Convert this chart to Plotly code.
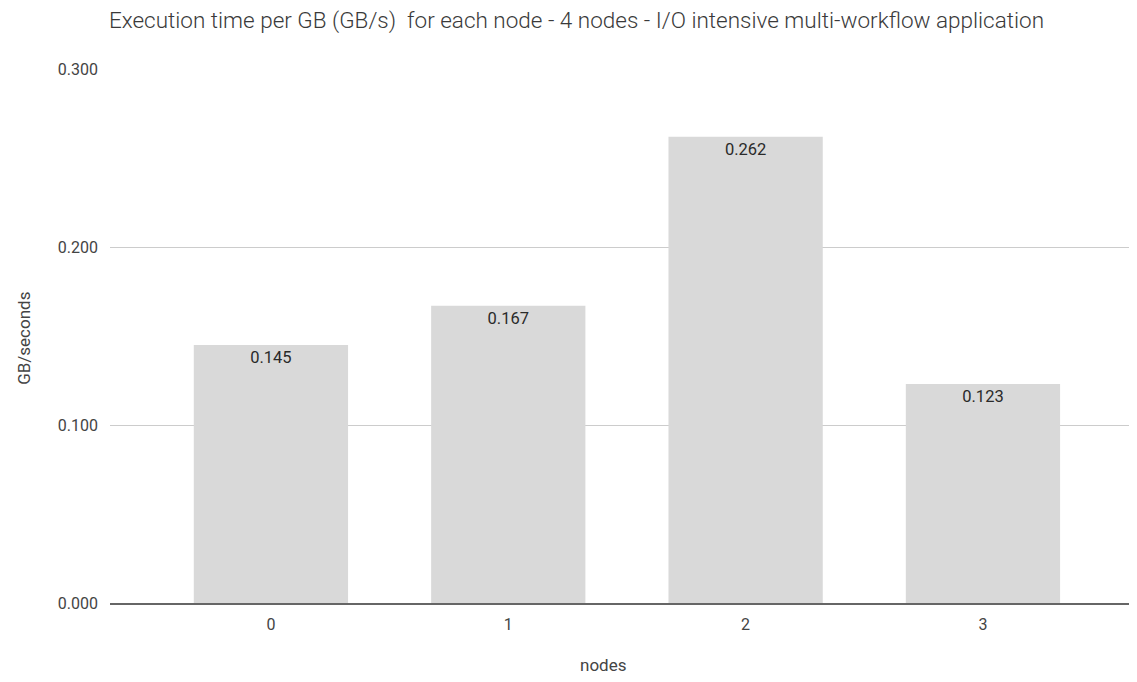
import plotly.graph_objects as go

nodes = ["0", "1", "2", "3"]
values = [0.145, 0.167, 0.262, 0.123]
labels = ["0.145", "0.167", "0.262", "0.123"]
yticks = [0.0, 0.1, 0.2, 0.3]
yticklabels = ["0.000", "0.100", "0.200", "0.300"]
x_title = "nodes"
y_title = "GB/seconds"

fig = go.Figure(go.Bar(
    x=[0, 1, 2, 3], y=values, text=labels,
    textposition="inside", insidetextanchor="end",
    textfont=dict(family="Roboto", size=16.5, color="#2a2a2a"),
    marker=dict(color="#d9d9d9", line=dict(width=0)),
    width=0.65,
))

fig.update_layout(
    width=1137, height=682,
    margin=dict(l=102, r=8, t=61, b=87),
    plot_bgcolor="white", paper_bgcolor="white",
    font=dict(family="Roboto", color="#444444"),
    title=dict(text="Execution time per GB (GB/s)  for each node - 4 nodes - I/O intensive multi-workflow application",
               x=0.5, xanchor="center", y=0.982, yanchor="middle",
               font=dict(family="Roboto", size=22.5, color="#3a3a3a", weight=300)),
    showlegend=False,
    annotations=[
        dict(text=x_title, xref="paper", yref="paper", x=0.48, y=-0.116,
             xanchor="center", yanchor="middle", showarrow=False,
             font=dict(family="Roboto", size=17, color="#444444")),
        dict(text=y_title, xref="paper", yref="paper", x=-0.084, y=0.496,
             xanchor="center", yanchor="middle", showarrow=False, textangle=-90,
             font=dict(family="Roboto", size=17, color="#444444")),
    ],
)
fig.update_xaxes(range=[-0.678, 3.649], tickvals=[0, 1, 2, 3], ticktext=nodes,
                 showgrid=False, showline=True, linecolor="#666666", linewidth=1.5,
                 ticks="", tickfont=dict(size=16, color="#444444"), ticklabelstandoff=6)
fig.update_yaxes(range=[0, 0.3], tickvals=yticks, ticktext=yticklabels,
                 showgrid=True, gridcolor="#cccccc", gridwidth=1, zeroline=False,
                 ticks="", tickfont=dict(size=16, color="#444444"), ticklabelstandoff=11)

fig.write_html("out.html")
